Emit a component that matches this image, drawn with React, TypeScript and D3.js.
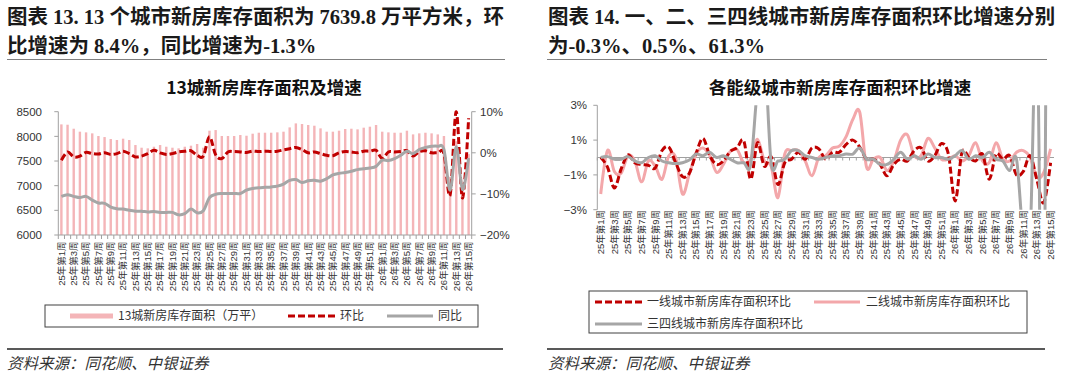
import React from 'react';
import * as d3 from 'd3';

const weekLabels: string[] = [
  '25年第1周', '25年第2周', '25年第3周', '25年第4周', '25年第5周', '25年第6周', '25年第7周', '25年第8周', '25年第9周', '25年第10周',
  '25年第11周', '25年第12周', '25年第13周', '25年第14周', '25年第15周', '25年第16周', '25年第17周', '25年第18周', '25年第19周', '25年第20周',
  '25年第21周', '25年第22周', '25年第23周', '25年第24周', '25年第25周', '25年第26周', '25年第27周', '25年第28周', '25年第29周', '25年第30周',
  '25年第31周', '25年第32周', '25年第33周', '25年第34周', '25年第35周', '25年第36周', '25年第37周', '25年第38周', '25年第39周', '25年第40周',
  '25年第41周', '25年第42周', '25年第43周', '25年第44周', '25年第45周', '25年第46周', '25年第47周', '25年第48周', '25年第49周', '25年第50周',
  '25年第51周', '25年第52周',
  '26年第1周', '26年第2周', '26年第3周', '26年第4周', '26年第5周', '26年第6周', '26年第7周', '26年第8周', '26年第9周', '26年第10周',
  '26年第11周', '26年第12周', '26年第13周', '26年第14周', '26年第15周',
];

// 13城新房库存面积（万平）
const inventory: number[] = [
  8243, 8236, 8155, 8095, 8081, 8061, 8007, 7986, 7946, 7926,
  7953, 7926, 7824, 7770, 7757, 7790, 7824, 7790, 7770, 7757,
  7790, 7811, 7845, 7770, 8115, 8128, 8007, 8007, 8007, 8027,
  8013, 8054, 8074, 8074, 8074, 8081, 8095, 8182, 8263, 8250,
  8230, 8216, 8162, 8095, 8095, 8115, 8149, 8155, 8142, 8176,
  8196, 8230, 8095, 8081, 8074, 8074, 8115, 8040, 8061, 8074,
  8061, 8040, 8007, 7180, 7900, 7048, 7640,
];

// 环比 (%)
const momTotal: number[] = [
  -1.8, 0.2, -1.0, -0.8, 0.1, -0.2, -0.3, 0.0, -0.4, -0.2,
  0.4, -0.2, -1.0, -0.8, -0.2, 0.6, 0.0, -0.4, -0.2, 0.2,
  0.4, 0.5, -0.6, -0.8, 3.9, -0.5, -1.4, 0.2, 0.3, 0.2,
  0.1, 0.4, 0.3, 0.4, 0.3, 0.4, 0.7, 1.0, 1.3, 0.8,
  0.0, 0.2, -0.2, -0.6, -0.7, 0.0, 0.3, 0.2, 0.0, 0.4,
  0.4, 0.6, -1.4, 0.2, 0.2, 0.3, 0.5, -0.8, 0.3, 0.5,
  0.0, 0.0, -0.2, -10.3, 10.0, -11.0, 8.4,
];

// 同比 (%)
const yoyTotal: number[] = [
  -10.6, -10.2, -10.6, -10.9, -10.6, -11.5, -12.2, -12.3, -13.2, -13.6,
  -13.7, -14.0, -14.2, -14.2, -14.4, -14.3, -14.5, -14.5, -14.5, -15.1,
  -14.8, -13.7, -14.6, -14.1, -10.9, -10.1, -9.9, -9.9, -9.9, -9.9,
  -9.1, -8.7, -8.5, -8.4, -8.3, -8.1, -7.6, -6.7, -6.5, -7.2,
  -6.8, -6.7, -6.9, -6.3, -5.4, -5.0, -4.8, -4.5, -4.1, -3.9,
  -3.7, -3.3, -1.8, -1.9, -1.4, -0.6, 0.4, -0.2, 0.8, 1.3,
  1.6, 1.6, 0.8, -9.1, 1.5, -8.9, -1.3,
];

// 一线城市新房库存面积环比 (%)
const momTier1: number[] = [
  0.0, -0.55, -1.75, -0.65, 0.15, -0.3, -0.4, -0.45, -0.6, 0.4,
  0.6, -0.3, -1.1, -0.9, 0.25, 1.1, 0.1, -0.4, -0.2, 0.35,
  0.55, 0.95, -1.25, 0.85, -0.5, 0.05, -1.55, -0.3, -0.1, 0.3,
  -0.1, 0.55, 0.5, -0.1, 0.3, 0.3, 0.75, 1.0, 0.6, -0.1,
  -0.1, -0.4, -1.05, -0.4, -0.1, -0.2, 0.4, 0.55, -0.2, 0.1,
  0.8, 0.2, -2.5, 0.3, 0.0, -0.2, 0.2, -1.25, 0.2, -0.1,
  0.1, -1.0, -0.8, 0.1, -1.3, -2.6, -0.3,
];

// 二线城市新房库存面积环比 (%)
const momTier2: number[] = [
  -2.1, 0.4, -0.8, -0.9, 0.1, -0.2, -1.4, -0.2, -0.5, -1.25,
  0.1, 0.0, -2.1, -0.95, 0.2, 0.55, 0.1, -0.85, -0.4, 0.35,
  0.45, -0.3, -0.1, 1.05, -0.2, -0.5, -2.3, 0.2, 0.4, 0.4,
  -0.2, -1.05, 0.0, 0.1, 0.55, 0.65, 1.2, 2.2, 2.6, -0.55,
  -0.1, 0.0, -0.75, -0.2, 1.0, 1.3, 0.1, 0.1, 1.1, 0.55,
  -0.1, -0.1, 0.1, -0.2, 0.1, 0.85, -0.2, -0.3, 0.85, -0.1,
  -0.2, 0.3, 0.4, 0.0, -1.15, -0.85, 0.5,
];

// 三四线城市新房库存面积环比 (%)
const momTier3: number[] = [
  0.0, 0.05, -0.1, -0.1, 0.05, -0.2, -0.3, 0.0, 0.1, -0.2,
  -0.3, -0.35, -0.3, -0.15, 0.2, 0.1, 0.3, 0.0, 0.1, -0.1,
  -0.3, -0.3, -0.4, 4.0, 6.0, -0.3, -0.2, -0.1, 0.4, 0.4,
  0.1, 0.0, -0.1, 0.0, 0.1, 0.1, 0.2, 0.2, 0.55, -0.1,
  -0.1, -0.4, -0.4, -0.1, 0.3, -0.1, 0.1, -0.1, 0.2, 0.0,
  0.0, -0.1, 0.1, 0.4, -0.1, 0.1, 0.0, 0.3, -0.1, -0.2,
  -0.75, -0.1, -4.5, -4.5, 8.0, -15.0, 61.3,
];

const leftTicks: number[] = [6000, 6500, 7000, 7500, 8000, 8500];
const leftPctTicks: number[] = [-20, -10, 0, 10];
const rightTicks: number[] = [-3, -1, 1, 3];

const RED = '#c00000';
const PINK_BAR = '#f4b5b8';
const PINK_LINE = '#f3a7aa';
const GRAY = '#a6a6a6';
const AXIS = '#a0a0a0';

const latin = '"Liberation Sans", Arial, "Noto Sans CJK SC", sans-serif';
const cjk = '"Noto Sans CJK SC", sans-serif';
const head = '"Liberation Serif", "Noto Sans CJK SC", serif';

const pct = (v: number) => `${v < 0 ? '\u2212' : ''}${Math.abs(v)}%`;

export default function App() {
  // ---------- left chart ----------
  const Lx0 = 58.3, Lx1 = 471.7, LyT = 111.7, LyB = 235;
  const xL = d3.scaleBand<string>().domain(weekLabels).range([Lx0, Lx1]).paddingInner(0).paddingOuter(0);
  const cxL = (i: number) => (xL(weekLabels[i]) as number) + xL.bandwidth() / 2;
  const yBar = d3.scaleLinear().domain([6000, 8500]).range([LyB, LyT]);
  const yPct = d3.scaleLinear().domain([-20, 10]).range([LyB, LyT]);
  const curve = d3.curveCardinal.tension(0);
  const lineL = d3.line<number>().x((_, i) => cxL(i)).y((d) => yPct(d)).curve(curve);

  // ---------- right chart ----------
  const Rx0 = 597.3, Rx1 = 1054, RyT = 105.3, RyB = 209.7;
  const xR = d3.scaleBand<string>().domain(weekLabels).range([Rx0, Rx1]).paddingInner(0).paddingOuter(0);
  const cxR = (i: number) => (xR(weekLabels[i]) as number) + xR.bandwidth() / 2;
  const yR = d3.scaleLinear().domain([-3, 3]).range([RyB, RyT]);
  const lineR = d3.line<number>().x((_, i) => cxR(i)).y((d) => yR(d)).curve(curve);

  return (
    <div style={{ position: 'absolute', left: 0, top: 0 }}>
      <svg width={1080} height={380} style={{ display: 'block', background: '#fff' }}>
        <defs>
          <clipPath id="clipL">
            <rect x={Lx0} y={LyT - 2} width={Lx1 - Lx0} height={LyB - LyT + 2} />
          </clipPath>
          <clipPath id="clipR">
            <rect x={Rx0} y={RyT} width={Rx1 - Rx0} height={RyB - RyT} />
          </clipPath>
        </defs>

        {/* ---------- headings ---------- */}
        <g fontFamily={head} fontWeight="bold" fontSize={20.5} fill="#1a1a1a">
          <text x={7} y={24}>图表 13. 13 个城市新房库存面积为 7639.8 万平方米，环</text>
          <text x={7} y={53}>比增速为 8.4%，同比增速为-1.3%</text>
          <text x={548} y={24}>图表 14. 一、二、三四线城市新房库存面积环比增速分别</text>
          <text x={548} y={53}>为-0.3%、0.5%、61.3%</text>
        </g>
        <line x1={7} x2={505} y1={59.5} y2={59.5} stroke="#808080" strokeWidth={1} />
        <line x1={547} x2={1047} y1={59.5} y2={59.5} stroke="#808080" strokeWidth={1} />

        {/* ---------- chart titles ---------- */}
        <text x={264} y={94} textAnchor="middle" fontFamily={cjk} fontWeight="bold" fontSize={17.5} fill="#111">13城新房库存面积及增速</text>
        <text x={840} y={94} textAnchor="middle" fontFamily={cjk} fontWeight="bold" fontSize={17.5} fill="#111">各能级城市新房库存面积环比增速</text>

        {/* ================= LEFT CHART ================= */}
        <g>
          {inventory.map((v, i) => (
            <rect key={i} x={cxL(i) - 1.2} y={yBar(v)} width={2.4} height={LyB - yBar(v)} fill={PINK_BAR} />
          ))}
        </g>
        <line x1={Lx0} x2={Lx0} y1={LyT} y2={LyB} stroke={AXIS} />
        <line x1={Lx1} x2={Lx1} y1={LyT} y2={LyB} stroke={AXIS} />
        <line x1={Lx0} x2={Lx1} y1={LyB} y2={LyB} stroke={AXIS} />
        {leftTicks.map((t) => (
          <g key={t}>
            <line x1={Lx0 - 4} x2={Lx0} y1={yBar(t)} y2={yBar(t)} stroke={AXIS} />
            <text x={42} y={yBar(t)} dy="0.36em" textAnchor="end" fontFamily={latin} fontSize={11.5} fill="#333">{t}</text>
          </g>
        ))}
        {leftPctTicks.map((t) => (
          <g key={t}>
            <line x1={Lx1} x2={Lx1 + 4} y1={yPct(t)} y2={yPct(t)} stroke={AXIS} />
            <text x={480} y={yPct(t)} dy="0.36em" textAnchor="start" fontFamily={latin} fontSize={11.5} fill="#333">{pct(t)}</text>
          </g>
        ))}
        {weekLabels.map((w, i) => (
          <line key={i} x1={(xL(w) as number)} x2={(xL(w) as number)} y1={LyB} y2={LyB + 4} stroke={AXIS} />
        ))}
        <line x1={Lx1} x2={Lx1} y1={LyB} y2={LyB + 4} stroke={AXIS} />
        {weekLabels.map((w, i) =>
          i % 2 === 0 ? (
            <text key={w} transform={`translate(${cxL(i)},${241.5}) rotate(-90)`} dy="0.35em" textAnchor="end"
              fontFamily={latin} fontSize={9.5} fill="#333">{w}</text>
          ) : null
        )}
        <g clipPath="url(#clipL)" fill="none">
          <path d={lineL(momTotal) || ''} stroke={RED} strokeWidth={3} strokeDasharray="7 3" />
          <path d={lineL(yoyTotal) || ''} stroke={GRAY} strokeWidth={3} />
        </g>

        {/* left legend */}
        <rect x={45} y={305} width={433} height={22} fill="none" stroke="#404040" strokeWidth={1} />
        <line x1={70} x2={113} y1={316} y2={316} stroke={PINK_BAR} strokeWidth={5} />
        <text x={118} y={316} dy="0.36em" fontFamily={cjk} fontSize={12} fill="#333">13城新房库存面积（万平）</text>
        <line x1={288} x2={335} y1={316} y2={316} stroke={RED} strokeWidth={3} strokeDasharray="7 3" />
        <text x={340} y={316} dy="0.36em" fontFamily={cjk} fontSize={12} fill="#333">环比</text>
        <line x1={387} x2={433} y1={316} y2={316} stroke={GRAY} strokeWidth={3} />
        <text x={438} y={316} dy="0.36em" fontFamily={cjk} fontSize={12} fill="#333">同比</text>

        {/* ================= RIGHT CHART ================= */}
        <line x1={Rx0} x2={Rx0} y1={RyT} y2={RyB} stroke={AXIS} />
        {rightTicks.map((t) => (
          <g key={t}>
            <line x1={Rx0 - 4} x2={Rx0} y1={yR(t)} y2={yR(t)} stroke={AXIS} />
            <text x={587} y={yR(t)} dy="0.36em" textAnchor="end" fontFamily={latin} fontSize={11.5} fill="#333">{pct(t)}</text>
          </g>
        ))}
        <line x1={Rx0} x2={Rx1} y1={yR(0)} y2={yR(0)} stroke={AXIS} />
        {weekLabels.map((w, i) => (
          <line key={i} x1={(xR(w) as number)} x2={(xR(w) as number)} y1={yR(0)} y2={yR(0) + 3} stroke={AXIS} />
        ))}
        {weekLabels.map((w, i) =>
          i % 2 === 0 ? (
            <text key={w} transform={`translate(${cxR(i)},${210}) rotate(-90)`} dy="0.35em" textAnchor="end"
              fontFamily={latin} fontSize={9.5} fill="#333">{w}</text>
          ) : null
        )}
        <g clipPath="url(#clipR)" fill="none">
          <path d={lineR(momTier2) || ''} stroke={PINK_LINE} strokeWidth={3} />
          <path d={lineR(momTier1) || ''} stroke={RED} strokeWidth={3} strokeDasharray="7 3" />
          <path d={lineR(momTier3) || ''} stroke={GRAY} strokeWidth={3} />
        </g>

        {/* right legend */}
        <rect x={589} y={291} width={438} height={42} fill="none" stroke="#404040" strokeWidth={1} />
        <line x1={595} x2={642} y1={302} y2={302} stroke={RED} strokeWidth={3} strokeDasharray="7 3" />
        <text x={647} y={302} dy="0.36em" fontFamily={cjk} fontSize={12} fill="#333">一线城市新房库存面积环比</text>
        <line x1={814} x2={860} y1={302} y2={302} stroke={PINK_LINE} strokeWidth={3} />
        <text x={866} y={302} dy="0.36em" fontFamily={cjk} fontSize={12} fill="#333">二线城市新房库存面积环比</text>
        <line x1={595} x2={642} y1={324} y2={324} stroke={GRAY} strokeWidth={3} />
        <text x={647} y={324} dy="0.36em" fontFamily={cjk} fontSize={12} fill="#333">三四线城市新房库存面积环比</text>

        {/* ---------- sources ---------- */}
        <line x1={7} x2={503} y1={349} y2={349} stroke="#222" strokeWidth={1.3} />
        <line x1={547} x2={1045} y1={349} y2={349} stroke="#222" strokeWidth={1.3} />
        <text x={7} y={369} fontFamily={cjk} fontStyle="italic" fontSize={15.5} fill="#333">资料来源：同花顺、中银证券</text>
        <text x={548} y={369} fontFamily={cjk} fontStyle="italic" fontSize={15.5} fill="#333">资料来源：同花顺、中银证券</text>
      </svg>
    </div>
  );
}
